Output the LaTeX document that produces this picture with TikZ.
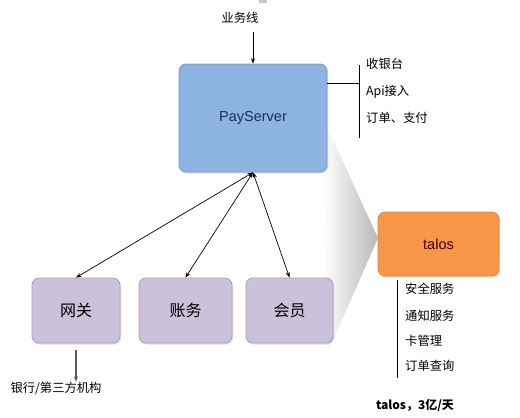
\documentclass[tikz,border=0pt]{standalone}
\usepackage{fontspec}
\setmainfont{Liberation Sans}
\newfontfamily\cjk{Noto Sans CJK SC}
\usetikzlibrary{arrows.meta,shadows}
\definecolor{psfill}{HTML}{8DB3E2}
\definecolor{psdraw}{HTML}{7A9CC8}
\definecolor{subfill}{HTML}{CCC1DA}
\definecolor{subdraw}{HTML}{A89CBC}
\definecolor{tafill}{HTML}{F79646}
\definecolor{tadraw}{HTML}{E08A4A}
\definecolor{pstext}{HTML}{1F2D5A}
\tikzset{
  box/.style={rounded corners=7pt, line width=0.8pt, inner sep=0pt,
    drop shadow={shadow xshift=1pt, shadow yshift=-1.5pt, opacity=0.25}},
  lbl/.style={font=\cjk\fontsize{12.3}{14}\selectfont, inner sep=0pt, anchor=west},
  arr/.style={-{Stealth[length=5.5pt,width=4pt]}, line width=0.7pt},
  dbl/.style={{Stealth[length=5.5pt,width=4pt]}-{Stealth[length=5.5pt,width=4pt]}, line width=0.7pt},
  brk/.style={line width=0.8pt}
}
\begin{document}
\begin{tikzpicture}[x=1pt,y=-1pt]
\useasboundingbox (0,0) rectangle (520,418);
\fill[white] (0,0) rectangle (520,418);
% small grey mark at the top
\fill[black!22] (259,0) rectangle (267,2.5);
% zoom wedge
\shade[left color=white, right color=black!28] (323,118) -- (378,238) -- (328,352) -- cycle;
% main boxes
\node[box, fill=psfill, draw=psdraw, minimum width=148pt, minimum height=108pt,
  font=\fontsize{14.5}{16}\selectfont, text=pstext] (ps) at (253,118) {PayServer};
\node[box, fill=tafill, draw=tadraw, minimum width=121pt, minimum height=64pt,
  font=\fontsize{14.5}{16}\selectfont, text=black!75!red] (ta) at (438.5,244) {talos};
\node[box, fill=subfill, draw=subdraw, minimum width=88pt, minimum height=65pt,
  font=\cjk\fontsize{16}{18}\selectfont] (gw) at (76,310.5) {网关};
\node[box, fill=subfill, draw=subdraw, minimum width=93pt, minimum height=65pt,
  font=\cjk\fontsize{16}{18}\selectfont] (acc) at (185.5,310.5) {账务};
\node[box, fill=subfill, draw=subdraw, minimum width=87pt, minimum height=65pt,
  font=\cjk\fontsize{16}{18}\selectfont] (mem) at (289.5,310.5) {会员};
% top input
\node[lbl, anchor=center] (biz) at (240,18) {业务线};
\coordinate (bizend) at (253,32);
\draw[arr] (bizend) -- (ps.north);
% connectors
\draw[dbl] (ps.south) -- (gw.north);
\draw[dbl] (ps.south) -- (acc.north);
\draw[dbl] (ps.south) -- (mem.north);
% bank
\node[lbl, anchor=center] (bank) at (56,388) {银行/第三方机构};
\coordinate (gwout) at (76,350);
\draw[-{Stealth[length=5pt,width=4pt]}, line width=1.4pt, black!65] (gwout) -- (bank.north -| gwout);
% payserver bracket
\coordinate (b1) at (359,65);
\coordinate (b2) at (359,138);
\coordinate (bh) at (359,83.5);
\draw[brk] (ps.east |- bh) -- (bh);
\draw[brk] (b1) -- (b2);
\node[lbl] (l1) at (366,64) {收银台};
\node[lbl] (l2) at (366,92) {Api接入};
\node[lbl] (l3) at (366,118) {订单、支付};
% talos bracket
\coordinate (t1) at (397,280);
\coordinate (t2) at (397,378);
\draw[brk] (t1) -- (t2);
\node[lbl] (m1) at (405,289) {安全服务};
\node[lbl] (m2) at (405,315.5) {通知服务};
\node[lbl] (m3) at (405,341) {卡管理};
\node[lbl] (m4) at (405,366) {订单查询};
% caption
\node[font=\cjk\bfseries\fontsize{12}{14}\selectfont, inner sep=0pt] (cap) at (415,405) {talos，3亿/天};
\end{tikzpicture}
\end{document}
